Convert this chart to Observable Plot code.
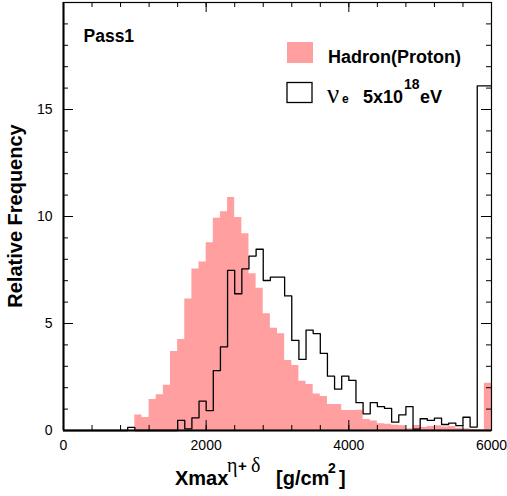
<!DOCTYPE html>
<html>
<head>
<meta charset="utf-8">
<script src="https://cdn.jsdelivr.net/npm/d3@7"></script>
<script src="https://cdn.jsdelivr.net/npm/@observablehq/plot@0.6"></script>
<style>
  html, body { margin: 0; padding: 0; background: #fff; }
  svg { display: block; }
</style>
</head>
<body>
<div id="chart"></div>
<script>
// Bin layout (100 g/cm2 wide bins from 0 to 6000)
const binWidth = 100;
const binStarts = d3.range(0, 6000, binWidth);

// Hadron (Proton) relative frequency per bin
const hadron = [0,0,0,0,0,0,0,0,0,0,
  0.73,0.61,1.45,1.67,2.12,3.69,4.25,6.14,7.55,7.87,
  8.77,9.92,10.22,10.89,9.95,9.19,7.32,6.65,5.45,4.78,
  4.52,3.27,3.04,2.30,2.15,1.71,1.59,1.21,1.21,0.93,
  0.93,0.95,0.51,0.44,0.31,0.29,0.25,0.22,0.08,0.23,
  0.14,0.19,0.22,0.16,0.19,0.11,0.08,0.05,0.03,2.21];

// nu_e 5x10^18 eV relative frequency per bin
const nuE = [0,0,0,0,0,0,0,0,0,0.15,
  0,0,0,0,0,0,0.47,0.08,0.59,1.37,
  0.93,2.80,3.91,7.48,6.39,7.55,8.15,8.47,7.01,7.17,
  7.17,6.29,4.21,3.32,4.69,4.53,3.60,2.54,1.93,2.54,
  2.34,1.30,0.78,1.30,1.12,1.03,0.39,0.73,1.12,0.06,
  0.55,0.47,0.58,0.28,0.34,0.23,0.62,0.16,16.1,16.1];

// Axis ticks
const xLabelTicks = [0, 2000, 4000, 6000];
const xMinorTicks = d3.range(0, 6001, 400);
const yLabelTicks = [0, 5, 10, 15];
const yMinorTicks = d3.range(0, 21, 1);

const W = 507, H = 496;
const mL = 63, mR = 16, mT = 2, mB = 66;
const fw = W - mL - mR, fh = H - mT - mB;

function steps(values) {
  const pts = binStarts.map((x, i) => ({x, y: values[i]}));
  pts.push({x: 6000, y: values[values.length - 1]});
  return pts;
}

const pink = "#ff9f9f";
const sans = "'Liberation Sans', Arial, Helvetica, sans-serif";
const serif = "'Liberation Serif', 'Times New Roman', serif";

const svg = Plot.plot({
  width: W, height: H,
  marginLeft: mL, marginRight: mR, marginTop: mT, marginBottom: mB,
  style: {fontFamily: sans, fontSize: "14px", color: "black", background: "white", overflow: "visible"},
  x: {domain: [0, 6000]},
  y: {domain: [0, 20]},
  marks: [
    Plot.areaY(steps(hadron), {x: "x", y: "y", curve: "step-after", fill: pink}),
    Plot.line(steps(nuE), {x: "x", y: "y", curve: "step-after", stroke: "black", strokeWidth: 1.3}),
    // inward ticks: bottom & top
    Plot.tickX(xMinorTicks, {x: d => d, insetTop: fh - 5, stroke: "black"}),
    Plot.tickX(xLabelTicks, {x: d => d, insetTop: fh - 10, stroke: "black"}),
    Plot.tickX(xMinorTicks, {x: d => d, insetBottom: fh - 5, stroke: "black"}),
    Plot.tickX(xLabelTicks, {x: d => d, insetBottom: fh - 10, stroke: "black"}),
    // inward ticks: left & right
    Plot.tickY(yMinorTicks, {y: d => d, insetRight: fw - 5, stroke: "black"}),
    Plot.tickY(yLabelTicks, {y: d => d, insetRight: fw - 10, stroke: "black"}),
    Plot.tickY(yMinorTicks, {y: d => d, insetLeft: fw - 5, stroke: "black"}),
    Plot.tickY(yLabelTicks, {y: d => d, insetLeft: fw - 10, stroke: "black"}),
    Plot.frame({stroke: "black", strokeWidth: 1.2}),
    Plot.ruleY([0], {stroke: "black", strokeWidth: 2}),
    Plot.ruleX([0], {stroke: "black", strokeWidth: 2}),
    Plot.axisX({ticks: xLabelTicks, tickSize: 0, tickPadding: 10, label: null, fontSize: 14,
      tickFormat: d3.format("d")}),
    Plot.axisY({ticks: yLabelTicks, tickSize: 0, tickPadding: 11, label: null, fontSize: 14,
      tickFormat: d3.format("d")}),
    Plot.text(["Pass1"], {frameAnchor: "top-left", dx: 20, dy: 27, text: d => d,
      fontWeight: "bold", fontSize: 17.5, textAnchor: "start", lineAnchor: "top"})
  ]
});

const s = d3.select(svg);

// Y axis title
s.append("text")
  .attr("transform", `translate(22,${mT + fh / 2}) rotate(-90)`)
  .attr("text-anchor", "middle")
  .attr("font-family", sans).attr("font-weight", "bold").attr("font-size", 20)
  .attr("fill", "black")
  .text("Relative Frequency");

// X axis title with superscripts
const xt = s.append("text")
  .attr("text-anchor", "start")
  .attr("font-family", sans).attr("font-weight", "bold").attr("font-size", 20)
  .attr("fill", "black").attr("y", 485);
xt.append("tspan").attr("x", 175).text("Xmax");
xt.append("tspan").attr("x", 227).attr("y", 472).attr("font-family", serif)
  .attr("font-weight", "normal").attr("font-size", 20).text("η");
xt.append("tspan").attr("x", 238).attr("y", 471).attr("font-size", 15).text("+");
xt.append("tspan").attr("x", 251).attr("y", 472).attr("font-family", serif)
  .attr("font-weight", "normal").attr("font-size", 20).text("δ");
xt.append("tspan").attr("x", 276).attr("y", 485).text("[g/cm");
xt.append("tspan").attr("x", 328).attr("y", 473).attr("font-size", 14).text("2");
xt.append("tspan").attr("x", 339).attr("y", 485).text("]");

// Legend
s.append("rect").attr("x", 287).attr("y", 42).attr("width", 26).attr("height", 21).attr("fill", pink);
s.append("text").attr("x", 328).attr("y", 62.5).attr("text-anchor", "start")
  .attr("font-family", sans).attr("font-weight", "bold").attr("font-size", 18).attr("fill", "black")
  .text("Hadron(Proton)");
s.append("rect").attr("x", 287).attr("y", 82.5).attr("width", 25).attr("height", 20)
  .attr("fill", "white").attr("stroke", "black").attr("stroke-width", 1.3);
const lt = s.append("text").attr("text-anchor", "start").attr("font-family", sans).attr("font-weight", "bold")
  .attr("font-size", 18).attr("fill", "black").attr("y", 102.5);
lt.append("tspan").attr("x", 327).attr("font-family", serif).attr("font-weight", "normal")
  .attr("font-size", 27).text("ν");
lt.append("tspan").attr("x", 342).attr("y", 103).attr("font-size", 12).text("e");
lt.append("tspan").attr("x", 363).attr("y", 102.5).text("5x10");
lt.append("tspan").attr("x", 404).attr("y", 88.5).attr("font-size", 14).text("18");
lt.append("tspan").attr("x", 420).attr("y", 102.5).text("eV");

document.getElementById("chart").appendChild(svg);
</script>
</body>
</html>
